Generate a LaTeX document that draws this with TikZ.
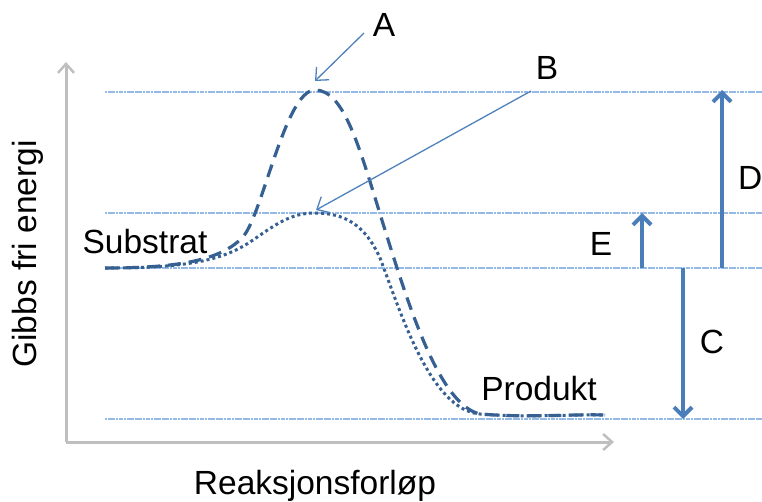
\documentclass[tikz,border=0pt]{standalone}
\usepackage{fontspec}
\setmainfont{Liberation Sans}
\usetikzlibrary{arrows.meta}
\definecolor{axisgray}{RGB}{191,191,191}
\definecolor{levelblue}{RGB}{150,186,230}
\definecolor{curveblue}{RGB}{54,96,146}
\definecolor{arrowblue}{RGB}{74,126,187}
\definecolor{pointblue}{RGB}{79,129,189}
\tikzset{
  axisline/.style={draw=axisgray,line width=3pt,-{Straight Barb[length=9pt,width=16pt,line width=2.5pt]}},
  levelline/.style={draw=levelblue,line width=1.3pt,dash pattern=on 2.2pt off 0.5pt},
  curvedash/.style={draw=curveblue,line width=3.2pt,dash pattern=on 13pt off 8pt},
  curvedot/.style={draw=curveblue,line width=3pt,dash pattern=on 3pt off 3pt},
  bigarrow/.style={draw=arrowblue,line width=4pt,-{Straight Barb[length=9pt,width=18pt,line width=4pt]}},
  pointer/.style={draw=pointblue,line width=1.3pt,-{Straight Barb[length=10pt,width=18pt,line width=1.3pt]}},
  lab/.style={font=\fontsize{33.5}{38}\selectfont,text=black,inner sep=0pt}
}
\begin{document}
\begin{tikzpicture}[x=1pt,y=-1pt]
\useasboundingbox (0,0) rectangle (762,501);
% coordinates
\coordinate (origin) at (66,442);
\coordinate (ytip) at (66,62);
\coordinate (xtip) at (614,442);
\coordinate (lA0) at (105,92); \coordinate (lA1) at (762,92);
\coordinate (lB0) at (105,213); \coordinate (lB1) at (762,213);
\coordinate (lS0) at (105,268); \coordinate (lS1) at (762,268);
\coordinate (lP0) at (105,419); \coordinate (lP1) at (762,419);
% level lines
\draw[levelline] (lA0) -- (lA1);
\draw[levelline] (lB0) -- (lB1);
\draw[levelline] (lS0) -- (lS1);
\draw[levelline] (lP0) -- (lP1);
% axes
\draw[axisline] (origin) -- (ytip);
\draw[axisline] (origin) -- (xtip);
% curves
\coordinate (peakA) at (315,90);
\coordinate (peakB) at (315,213);
\draw[curvedash] (105,268) .. controls (180,268) and (220,260) .. (242,238)
  .. controls (262,218) and (285,90) .. (peakA)
  .. controls (345,90) and (360,150) .. (385,230)
  .. controls (410,310) and (440,405) .. (480,414)
  .. controls (530,418) and (570,414) .. (605,415);
\draw[curvedot] (105,268) .. controls (180,268) and (220,262) .. (250,242)
  .. controls (275,225) and (290,213) .. (peakB)
  .. controls (345,213) and (365,225) .. (380,258)
  .. controls (400,310) and (430,410) .. (480,414)
  .. controls (530,418) and (570,414) .. (605,415);
% labels
\node[lab] (A) at (384,25) {A};
\node[lab] (B) at (547,68) {B};
\node[lab] (C) at (712,342) {C};
\node[lab,anchor=west] (D) at (738,178) {D};
\node[lab] (E) at (601,244) {E};
\node[lab] (sub) at (145,242) {Substrat};
\node[lab] (prod) at (539,389) {Produkt};
\node[lab,rotate=90] (ylab) at (28,254) {Gibbs fri energi};
\node[lab] (xlab) at (315,486) {Reaksjonsforløp};
% pointers
\coordinate (Afoot) at (364,33);
\coordinate (Bfoot) at (531,91);
\draw[pointer] (Afoot) -- (315,81);
\draw[pointer] (Bfoot) -- (316,210);
% big arrows
\coordinate (Dbase) at (722,268); \coordinate (Dtip) at (722,90);
\coordinate (Ebase) at (642,268); \coordinate (Etip) at (642,213);
\coordinate (Cbase) at (683,268); \coordinate (Ctip) at (683,419);
\draw[bigarrow] (Dbase) -- (Dtip);
\draw[bigarrow] (Ebase) -- (Etip);
\draw[bigarrow] (Cbase) -- (Ctip);
\end{tikzpicture}
\end{document}
